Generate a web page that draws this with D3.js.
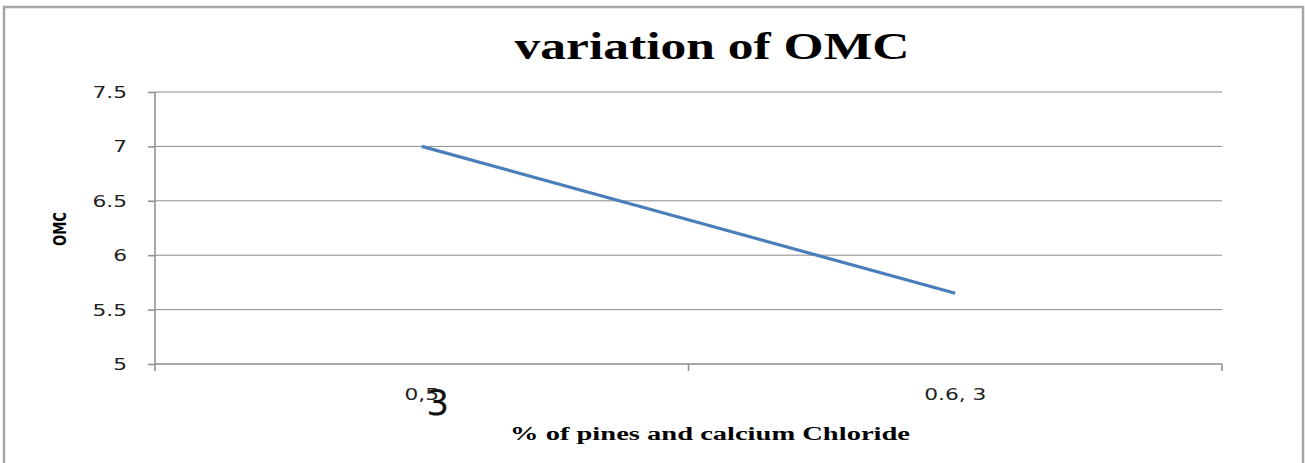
<!DOCTYPE html>
<html>
<head>
<meta charset="utf-8">
<script src="https://cdn.jsdelivr.net/npm/d3@7"></script>
<style>
  body { margin: 0; background: #fff; }
</style>
</head>
<body>
<div id="chart"></div>
<script>
// data
const categories = ["0,5", "0.6, 3"];
const omcValues = [7.0, 5.65];
const yTicks = [5, 5.5, 6, 6.5, 7, 7.5];

const W = 1305, H = 463;
const margin = { top: 92, right: 83, bottom: 99, left: 155 };
const width = W - margin.left - margin.right;
const height = H - margin.top - margin.bottom;
// the reference is stretched sideways, so texts get a horizontal scale
const stretch = 1.45;

const svg = d3.select("#chart")
  .append("svg")
  .attr("width", W)
  .attr("height", H);

// outer frame
svg.append("path")
  .attr("d", `M4,${H + 2} V7 H1303 V${H + 2}`)
  .attr("fill", "none")
  .attr("stroke", "#a6a6a6")
  .attr("stroke-width", 2.5);

const g = svg.append("g")
  .attr("transform", `translate(${margin.left},${margin.top})`);

const xScale = d3.scaleBand()
  .domain(categories)
  .range([0, width])
  .padding(0);

const yScale = d3.scaleLinear()
  .domain([5, 7.5])
  .range([height, 0]);

// gridlines
g.selectAll(".grid")
  .data(yTicks.slice(1))
  .enter()
  .append("line")
  .attr("class", "grid")
  .attr("x1", 0)
  .attr("x2", width)
  .attr("y1", d => yScale(d))
  .attr("y2", d => yScale(d))
  .attr("stroke", "#8c8c8c")
  .attr("stroke-width", 1);

// y axis
const yAxis = d3.axisLeft(yScale)
  .tickValues(yTicks)
  .tickSize(7)
  .tickFormat(d3.format("~g"));

g.append("g")
  .attr("class", "y-axis")
  .call(yAxis)
  .call(a => a.select(".domain").attr("stroke", "#8c8c8c").attr("stroke-width", 1.5).attr("d", `M0,0V${height}`))
  .call(a => a.selectAll(".tick line").attr("stroke", "#8c8c8c").attr("stroke-width", 1.5))
  .call(a => a.selectAll("text")
    .attr("x", 0)
    .attr("dy", "0.36em")
    .attr("transform", `translate(-28,0) scale(${stretch},1)`)
    .attr("fill", "#222")
    .style("font-family", "DejaVu Sans, Verdana, sans-serif")
    .style("font-size", "15px"));

// x axis
const xEdges = [0, xScale.step(), width];
const xAxisG = g.append("g")
  .attr("class", "x-axis")
  .attr("transform", `translate(0,${height})`);

xAxisG.append("line")
  .attr("x1", 0).attr("x2", width)
  .attr("stroke", "#8c8c8c")
  .attr("stroke-width", 1.5);

xAxisG.selectAll(".xtick")
  .data(xEdges)
  .enter()
  .append("line")
  .attr("class", "xtick")
  .attr("x1", d => d).attr("x2", d => d)
  .attr("y1", 0).attr("y2", 7)
  .attr("stroke", "#8c8c8c")
  .attr("stroke-width", 1.5);

xAxisG.selectAll(".xlabel")
  .data(categories)
  .enter()
  .append("text")
  .attr("class", "xlabel")
  .attr("transform", d => `translate(${xScale(d) + xScale.bandwidth() / 2},36) scale(${stretch},1)`)
  .attr("text-anchor", "middle")
  .attr("fill", "#222")
  .style("font-family", "DejaVu Sans, Verdana, sans-serif")
  .style("font-size", "15px")
  .text(d => d);

// handwritten "3" scribbled over the first label
xAxisG.append("text")
  .attr("x", xScale(categories[0]) + xScale.bandwidth() / 2 + 16)
  .attr("y", 51)
  .attr("text-anchor", "middle")
  .attr("fill", "#111")
  .style("font-family", "DejaVu Sans, sans-serif")
  .style("font-size", "36px")
  .text("3");

// line
const line = d3.line()
  .x((d, i) => xScale(categories[i]) + xScale.bandwidth() / 2)
  .y(d => yScale(d));

g.append("path")
  .datum(omcValues)
  .attr("d", line)
  .attr("fill", "none")
  .attr("stroke", "#4a7ebb")
  .attr("stroke-width", 3.2);

// title
svg.append("text")
  .attr("x", 712)
  .attr("y", 59)
  .attr("text-anchor", "middle")
  .attr("textLength", 395)
  .attr("lengthAdjust", "spacingAndGlyphs")
  .attr("fill", "#000")
  .style("font-family", "Liberation Serif, Times New Roman, serif")
  .style("font-weight", "bold")
  .style("font-size", "37px")
  .text("variation of OMC");

// x axis title
svg.append("text")
  .attr("x", 710)
  .attr("y", 440)
  .attr("text-anchor", "middle")
  .attr("textLength", 400)
  .attr("lengthAdjust", "spacingAndGlyphs")
  .attr("fill", "#000")
  .style("font-family", "Liberation Serif, Times New Roman, serif")
  .style("font-weight", "bold")
  .style("font-size", "18px")
  .text("% of pines and calcium Chloride");

// y axis title
svg.append("text")
  .attr("transform", "translate(66,229) rotate(-90)")
  .attr("text-anchor", "middle")
  .attr("textLength", 34)
  .attr("lengthAdjust", "spacingAndGlyphs")
  .attr("fill", "#000")
  .style("font-family", "DejaVu Sans Condensed, sans-serif")
  .style("font-weight", "bold")
  .style("font-size", "17px")
  .text("OMC");
</script>
</body>
</html>
